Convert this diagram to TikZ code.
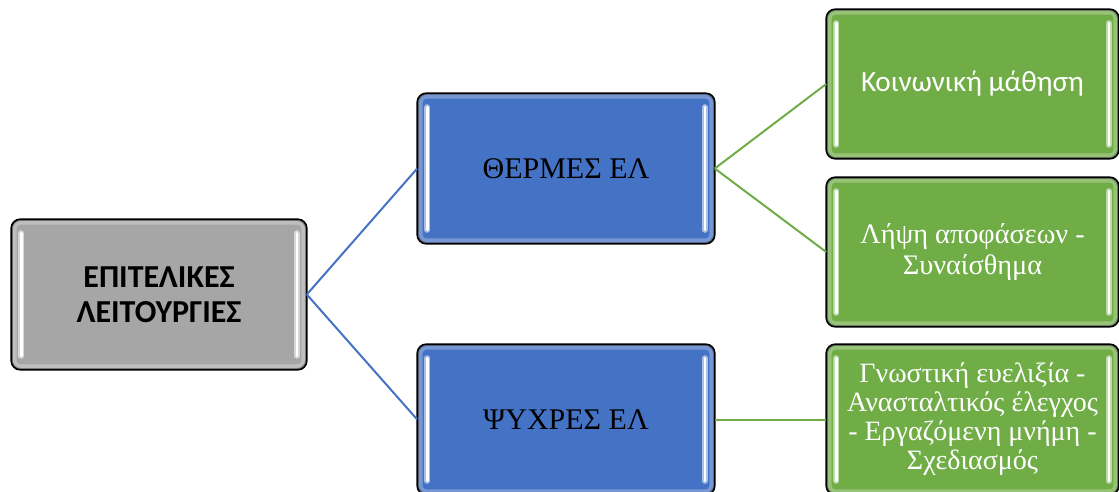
\documentclass[tikz,border=0pt]{standalone}
\usepackage{fontspec}
\setmainfont{Liberation Serif}
\newfontfamily\carlito{Carlito}
\definecolor{cblue}{HTML}{4472C4}
\definecolor{cgreen}{HTML}{70AD47}
\definecolor{cgray}{HTML}{A6A6A6}
\tikzset{
  box/.style={draw=black, line width=1.6pt, rounded corners=9pt, minimum width=#1, inner sep=0pt, align=center},
  box/.default=294pt,
  conn/.style={line width=2pt},
}
\newcommand{\gloss}[2]{%
  \draw[#2!55!white, line width=5pt, opacity=0.6, rounded corners=6pt]
    ([shift={(3pt,-3pt)}]#1.north west) rectangle ([shift={(-3pt,3pt)}]#1.south east);
  \foreach \s/\d in {west/10pt, east/-10pt}{
    \draw[#2!45!white, line width=6pt, line cap=round]
      ([shift={(\d,-14pt)}]#1.north \s) -- ([shift={(\d,14pt)}]#1.south \s);
    \draw[white, line width=2.6pt, line cap=round]
      ([shift={(\d,-14pt)}]#1.north \s) -- ([shift={(\d,14pt)}]#1.south \s);
  }
  \draw[black, line width=1.6pt, rounded corners=9pt] (#1.north west) rectangle (#1.south east);
}
\begin{document}
\begin{tikzpicture}[x=1pt,y=-1pt]
\useasboundingbox (0,0) rectangle (1119,492);
\node[box=294pt, minimum height=149pt, fill=cgray, font=\carlito\bfseries\fontsize{32}{35}\selectfont] (L) at (159,294.5) {ΕΠΙΤΕΛΙΚΕΣ\\ΛΕΙΤΟΥΡΓΙΕΣ};
\node[box=296pt, minimum height=149pt, fill=cblue, font=\fontsize{30}{34}\selectfont] (T) at (566,168.5) {ΘΕΡΜΕΣ ΕΛ};
\node[box=296pt, minimum height=149pt, fill=cblue, font=\fontsize{30}{34}\selectfont] (B) at (566,419.5) {ΨΥΧΡΕΣ ΕΛ};
\node[box=291pt, minimum height=148pt, fill=cgreen, text=white, font=\carlito\fontsize{29.3}{34}\selectfont] (G1) at (972.5,84) {Κοινωνική μάθηση};
\node[box=291pt, minimum height=148pt, fill=cgreen, text=white, font=\fontsize{28.3}{31}\selectfont] (G2) at (972.5,252) {Λήψη αποφάσεων -\\Συναίσθημα};
\node[box=291pt, minimum height=149pt, fill=cgreen, text=white, font=\fontsize{28}{29}\selectfont] (G3) at (972.5,419.5) {Γνωστική ευελιξία -\\Ανασταλτικός έλεγχος\\- Εργαζόμενη μνήμη -\\Σχεδιασμός};
\gloss{L}{cgray}
\gloss{T}{cblue}
\gloss{B}{cblue}
\gloss{G1}{cgreen}
\gloss{G2}{cgreen}
\gloss{G3}{cgreen}
\draw[conn, cblue] (L.east) -- (T.west);
\draw[conn, cblue] (L.east) -- (B.west);
\draw[conn, cgreen] (T.east) -- (G1.west);
\draw[conn, cgreen] (T.east) -- (G2.west);
\draw[conn, cgreen] (B.east) -- (G3.west);
\end{tikzpicture}
\end{document}
